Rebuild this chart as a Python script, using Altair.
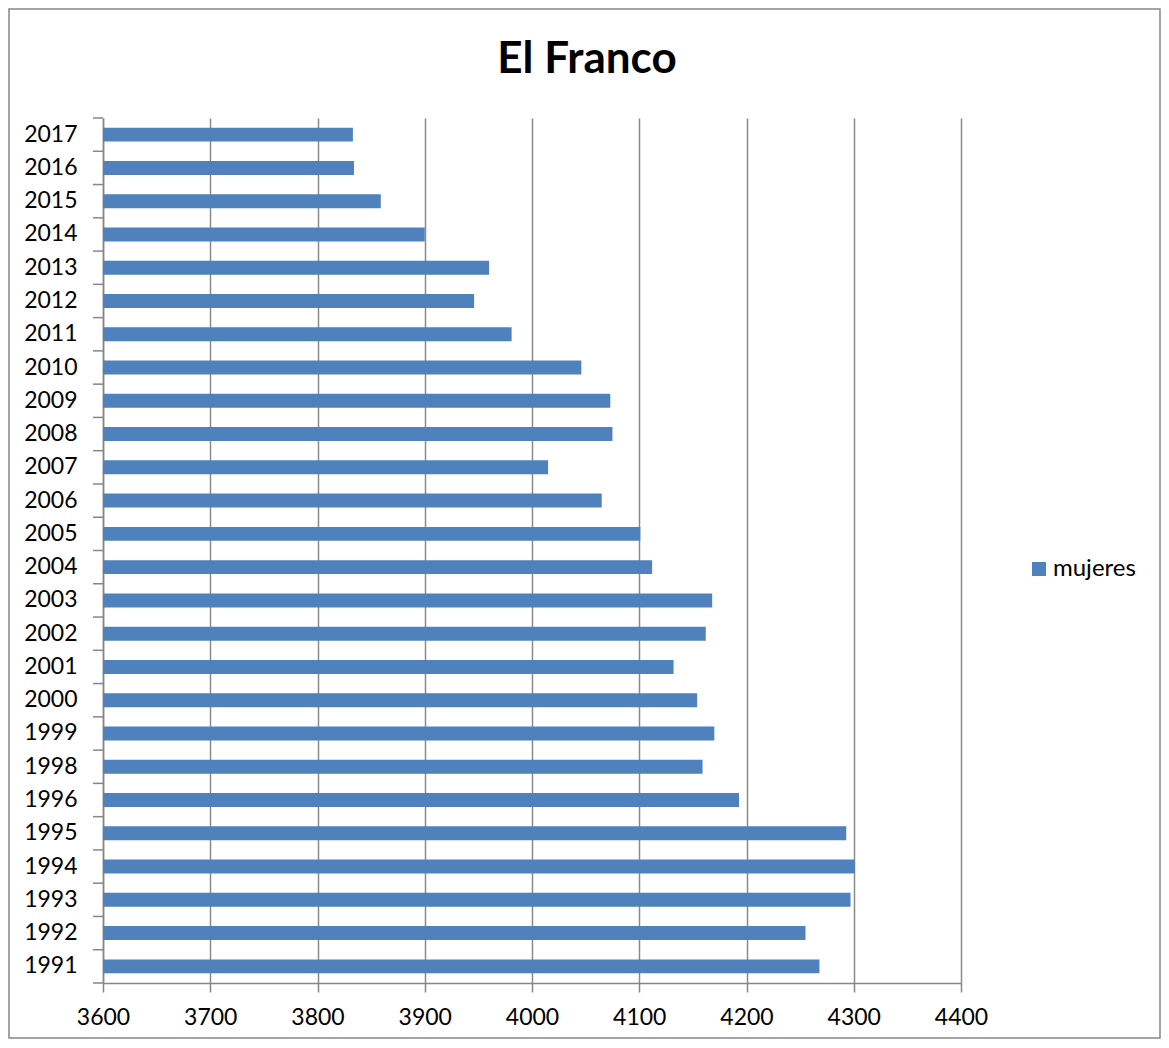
import altair as alt
import pandas as pd

years = ["2017", "2016", "2015", "2014", "2013", "2012", "2011", "2010", "2009", "2008",
         "2007", "2006", "2005", "2004", "2003", "2002", "2001", "2000", "1999", "1998",
         "1996", "1995", "1994", "1993", "1992", "1991"]
mujeres = [3833, 3834, 3859, 3900, 3960, 3946, 3981, 4046, 4073, 4075,
           4015, 4065, 4101, 4112, 4168, 4162, 4132, 4154, 4170, 4159,
           4193, 4293, 4301, 4297, 4255, 4268]
series_name = "mujeres"
title_text = "El Franco"
x_ticks = [3600, 3700, 3800, 3900, 4000, 4100, 4200, 4300, 4400]

df = pd.DataFrame({"year": years, "value": mujeres, "serie": [series_name] * len(years)})

FONT = "Lato"
GRAY = "#868686"

yscale = alt.Scale(domain=years, paddingInner=0, paddingOuter=0)

bars = alt.Chart(df).mark_bar(color="#4F81BD", height={"band": 0.42}, clip=True).encode(
    y=alt.Y("year:N", sort=years, title=None, scale=yscale,
            axis=alt.Axis(labelFont=FONT, labelFontSize=23, labelColor="#000000",
                          domainColor=GRAY, domainWidth=1.5, ticks=False,
                          labelPadding=26, grid=False)),
    x=alt.X("value:Q", title=None,
            scale=alt.Scale(domain=[3600, 4400], nice=False, zero=False),
            axis=alt.Axis(values=x_ticks, labelFont=FONT, labelFontSize=23, labelColor="#000000",
                          labelFlush=False,
                          domainColor=GRAY, domainWidth=1.5,
                          tickColor=GRAY, tickWidth=1.5, tickSize=9,
                          labelPadding=14, grid=True, gridColor="#8a8a8a", gridWidth=1.5,
                          format="d")),
    color=alt.Color("serie:N", scale=alt.Scale(range=["#4F81BD"]),
                    legend=alt.Legend(title=None, orient="none", legendX=924, legendY=439,
                                      symbolType="square", symbolSize=196, labelOffset=2,
                                      labelFont=FONT, labelFontSize=24, labelColor="#000000",
                                      symbolStrokeWidth=0)),
)

# category-boundary ticks on the y axis (Excel style)
yticks_top = alt.Chart(df).mark_rule(color=GRAY, strokeWidth=1.5).encode(
    y=alt.Y("year:N", sort=years, scale=yscale, bandPosition=0),
    x=alt.value(-10), x2=alt.value(0),
)
yticks_bottom = alt.Chart(df.iloc[[-1]]).mark_rule(color=GRAY, strokeWidth=1.5).encode(
    y=alt.Y("year:N", sort=years, scale=yscale, bandPosition=1),
    x=alt.value(-10), x2=alt.value(0),
)

title = alt.Chart(pd.DataFrame({"t": [title_text]})).mark_text(
    font=FONT, fontSize=44, fontWeight="bold", color="#000000",
    align="center", baseline="alphabetic"
).encode(text="t:N", x=alt.value(484), y=alt.value(-45))

frame = alt.Chart(pd.DataFrame({"a": [0]})).mark_rect(
    filled=False, stroke=GRAY, strokeWidth=1.5
).encode(x=alt.value(-94), x2=alt.value(1057), y=alt.value(-109), y2=alt.value(920))

chart = alt.layer(frame, title, bars, yticks_top, yticks_bottom).properties(
    width=858, height=865,
    autosize=alt.AutoSizeParams(type="none"),
    padding={"left": 95, "top": 110, "right": 200, "bottom": 57},
).configure_view(stroke=None)

chart.save("out.html", embed_options={"renderer": "svg", "actions": False})
